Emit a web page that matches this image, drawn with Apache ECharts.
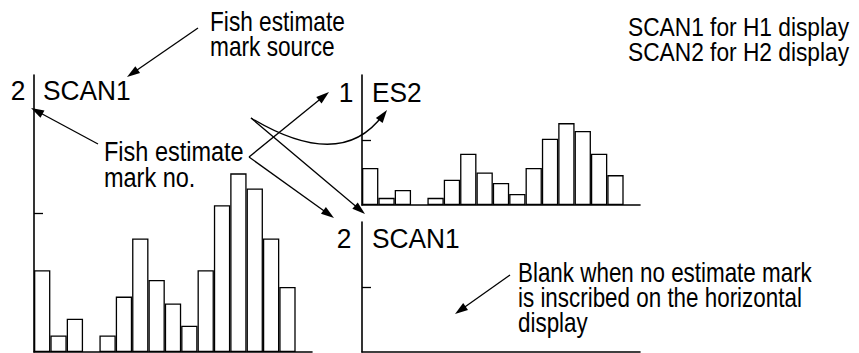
<!DOCTYPE html>
<html><head><meta charset="utf-8">
<script src="https://cdn.jsdelivr.net/npm/echarts@6/dist/echarts.min.js"></script>
<style>html,body{margin:0;padding:0;background:#fff}#c{width:859px;height:353px}</style>
</head><body><div id="c"></div>
<script>
// ---- data ----
const categories = ['1','2','3','4','5','6','7','8','9','10','11','12','13','14','15','16','17'];
const scan1Values = [0.59,0.12,0.24,null,0.12,0.40,0.82,0.52,0.35,0.19,0.59,1.06,1.29,1.18,0.82,0.47,null];
const es2Values   = [0.57,0.11,0.23,null,0.11,0.39,0.79,0.50,0.34,0.17,0.57,1.02,1.26,1.14,0.79,0.46,null];
const blankValues = [];
const yTickValues = [1];
const panelLabels = [['2','SCAN1'],['1','ES2'],['2','SCAN1']];
const noteSource = ['Fish estimate','mark source'];
const noteMarkNo = ['Fish estimate','mark no.'];
const noteScan = ['SCAN1 for H1 display','SCAN2 for H2 display'];
const noteBlank = ['Blank when no estimate mark','is inscribed on the horizontal','display'];

const FONT = '"Liberation Sans",Arial,sans-serif';
const chart = echarts.init(document.getElementById('c'), null, {renderer:'svg'});

const grids = [
  {left:34, top:75, width:278, height:277},
  {left:362, top:75, width:278, height:130},
  {left:362, top:222, width:278, height:130}
];
const axisLine = {show:true, lineStyle:{color:'#000', width:1.6}};
const xAxes = grids.map((g,i)=>({type:'category', gridIndex:i, data:categories, boundaryGap:true,
  axisLine:axisLine, axisTick:{show:false}, axisLabel:{show:false}, splitLine:{show:false}}));
const yAxes = grids.map((g,i)=>({type:'value', gridIndex:i, min:0, max:2, interval:1,
  axisLine:axisLine, axisTick:{show:true, inside:true, length:9, customValues:yTickValues, lineStyle:{color:'#000', width:1.3}},
  axisLabel:{show:false}, splitLine:{show:false}}));
const barStyle = {color:'#fff', borderColor:'#000', borderWidth:1.3};
const series = [scan1Values, es2Values, blankValues].map((d,i)=>({type:'bar', xAxisIndex:i, yAxisIndex:i,
  data:d, barCategoryGap:'0%', itemStyle:barStyle, silent:true, animation:false}));

function txt(s, x, y, size, sx, align){
  return {type:'text', silent:true, x:x, y:y, scaleX:sx, style:{text:s, x:0, y:0, font:size+'px '+FONT, fill:'#000', align:align||'left', verticalAlign:'middle'}};
}
function head(x1,y1,x2,y2){
  const L=13, W=4.2;
  const dx=x2-x1, dy=y2-y1, d=Math.hypot(dx,dy), ux=dx/d, uy=dy/d;
  const bx=x2-ux*L, by=y2-uy*L;
  return {type:'polygon', silent:true, shape:{points:[[x2,y2],[bx-uy*W,by+ux*W],[bx+uy*W,by-ux*W]]}, style:{fill:'#000'}};
}
function arrow(x1,y1,x2,y2){
  return [{type:'line', silent:true, shape:{x1:x1,y1:y1,x2:x2-(x2-x1)*0.05,y2:y2-(y2-y1)*0.05}, style:{stroke:'#000', lineWidth:1.3}}, head(x1,y1,x2,y2)];
}
const g = [];
g.push(...arrow(198,28,127,77));
g.push(...arrow(98,144,31,108));
g.push(...arrow(249,157,329,92));
g.push(...arrow(249,157,334,218));
g.push(...arrow(251,118,365,214));
g.push({type:'bezierCurve', silent:true, shape:{x1:251,y1:118,cpx1:341,cpy1:172,x2:383,y2:115}, style:{stroke:'#000', lineWidth:1.3, fill:null}});
g.push(head(341,172,387,110));
g.push(...arrow(510,275,455,314));

const PS = 28, PX = 0.94;   // panel label font
const NS = 27, NX = 0.84;   // note font
g.push(txt(panelLabels[0][0], 18, 90, PS, PX, 'center'), txt(panelLabels[0][1], 43, 90, PS, PX));
g.push(txt(panelLabels[1][0], 346, 92, PS, PX, 'center'), txt(panelLabels[1][1], 372, 92, PS, PX));
g.push(txt(panelLabels[2][0], 344, 238, PS, PX, 'center'), txt(panelLabels[2][1], 372, 238, PS, PX));
g.push(txt(noteSource[0], 210, 21, NS, NX), txt(noteSource[1], 210, 46, NS, NX));
g.push(txt(noteMarkNo[0], 104, 151, NS, 0.87), txt(noteMarkNo[1], 104, 177, NS, 0.87));
g.push(txt(noteScan[0], 628, 27, 26, 0.875), txt(noteScan[1], 628, 52, 26, 0.875));
g.push(txt(noteBlank[0], 518, 273, NS, 0.83), txt(noteBlank[1], 518, 298, NS, 0.83), txt(noteBlank[2], 518, 323, NS, 0.83));

chart.setOption({
  animation:false,
  backgroundColor:'#fff',
  grid:grids, xAxis:xAxes, yAxis:yAxes, series:series,
  graphic:{elements:g}
});
</script></body></html>
